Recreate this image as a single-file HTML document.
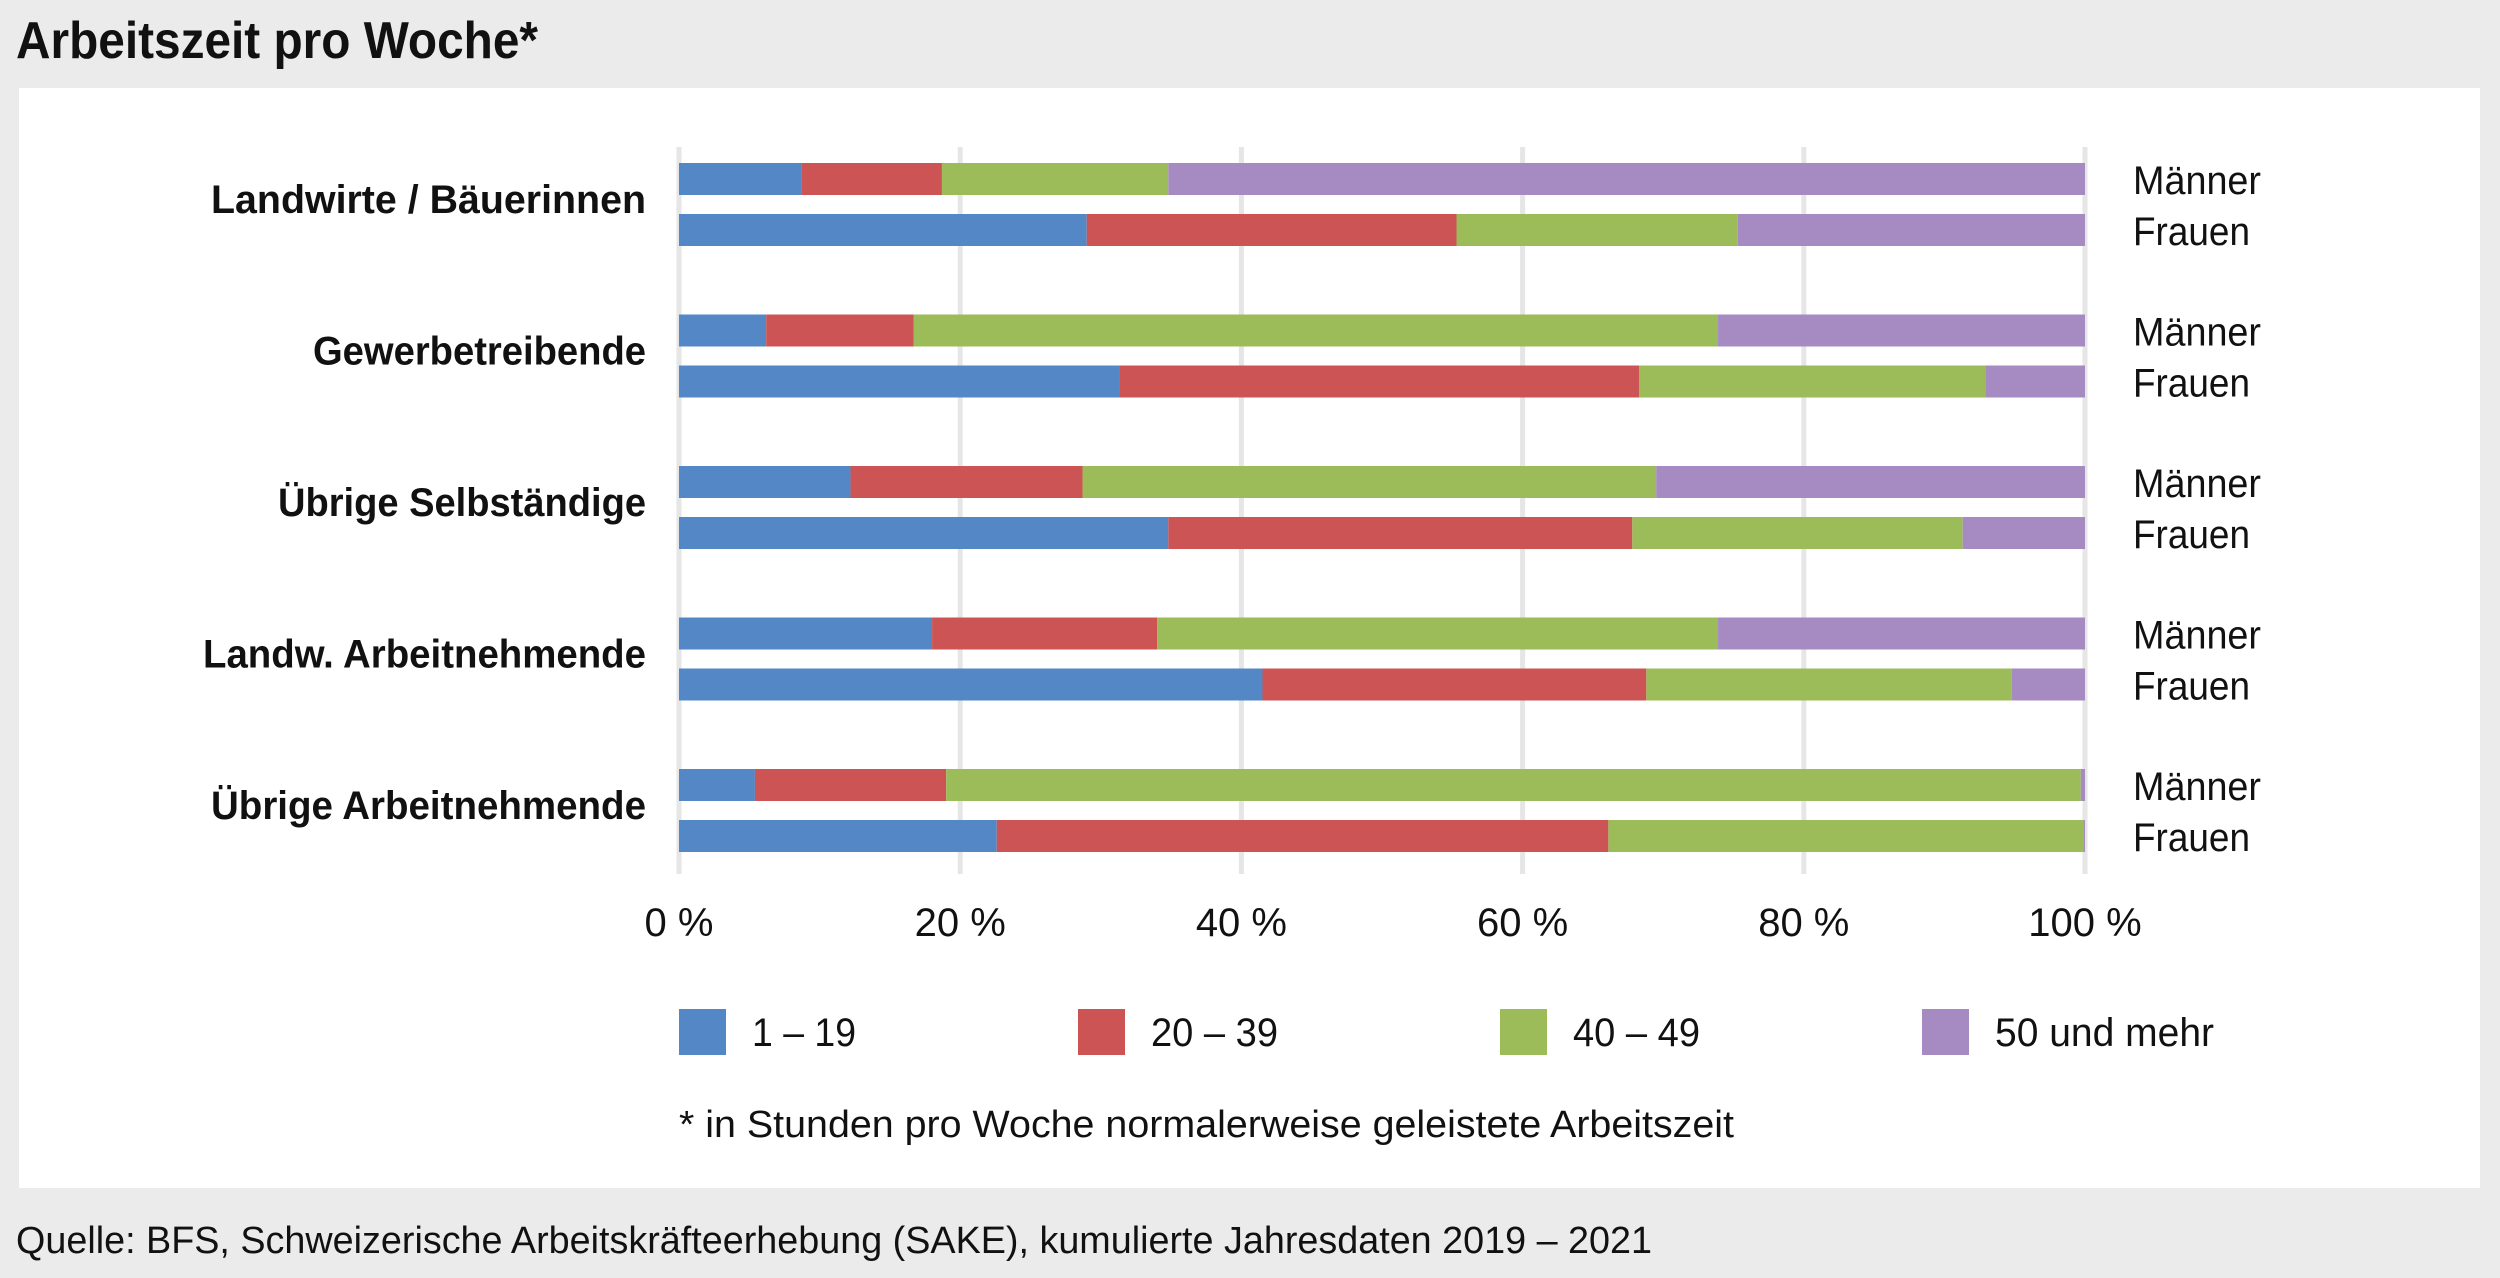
<!DOCTYPE html>
<html><head><meta charset="utf-8"><style>
html,body{margin:0;padding:0;background:#ebebeb;}
svg{display:block;font-family:"Liberation Sans",sans-serif;}
</style></head><body>
<svg width="2500" height="1278" viewBox="0 0 2500 1278">
<rect x="0" y="0" width="2500" height="1278" fill="#ebebeb"/>
<text x="16" y="58" font-size="52" font-weight="bold" textLength="522" lengthAdjust="spacingAndGlyphs" fill="#111">Arbeitszeit pro Woche*</text>
<rect x="19" y="88" width="2461" height="1100" fill="#fff"/>
<g id="grid"></g>
<g id="bars"></g>
<g id="labels"></g>
<g id="legend"></g>
<text x="679" y="1137" font-size="38" textLength="1055" lengthAdjust="spacingAndGlyphs" fill="#111">* in Stunden pro Woche normalerweise geleistete Arbeitszeit</text>
<text x="16" y="1253" font-size="38" textLength="1636" lengthAdjust="spacingAndGlyphs" fill="#111">Quelle: BFS, Schweizerische Arbeitskräfteerhebung (SAKE), kumulierte Jahresdaten 2019 – 2021</text>
</svg>
<script>
const categories = ["Landwirte / Bäuerinnen","Gewerbetreibende","Übrige Selbständige","Landw. Arbeitnehmende","Übrige Arbeitnehmende"];
const catWidths = [435,333,368,443,435];
const sexes = ["Männer","Frauen"];
const seriesNames = ["1 – 19","20 – 39","40 – 49","50 und mehr"];
const colors = ["#5387c6","#cc5454","#9cbb59","#a68bc3"];
// values per series: [cat][sex]
const s1 = [[8.7,29.0],[6.2,31.3],[12.2,34.8],[18.0,41.5],[5.4,22.6]];
const s2 = [[10.0,26.3],[10.5,37.0],[16.5,33.0],[16.0,27.3],[13.6,43.5]];
const s3 = [[16.1,20.0],[57.2,24.6],[40.8,23.5],[39.9,26.0],[80.7,33.8]];
const s4 = [[65.2,24.7],[26.1,7.1],[30.5,8.7],[26.1,5.2],[0.3,0.1]];
const ticks = [0,20,40,60,80,100];
const tickLabels = ["0 %","20 %","40 %","60 %","80 %","100 %"];
const series = [s1,s2,s3,s4];
const NS="http://www.w3.org/2000/svg";
const X0=679, X1=2085;
const xs = v => X0 + (X1-X0)*v/100;
const rowY = (c,s) => 163 + 151.5*c + 51*s;
const BH = 32;
function mk(tag, attrs, parent){const e=document.createElementNS(NS,tag);for(const k in attrs)e.setAttribute(k,attrs[k]);parent.appendChild(e);return e;}
const grid=document.getElementById('grid'), bars=document.getElementById('bars'), labels=document.getElementById('labels'), legend=document.getElementById('legend');
ticks.forEach((t,i)=>{
  const l=mk('line',{x1:xs(t),x2:xs(t),y1:147,y2:874,stroke:'#e6e6e6','stroke-width':5},grid);
  
  
  const tx=mk('text',{x:xs(t),y:936,'font-size':40,'text-anchor':'middle',fill:'#111'},grid);
  tx.textContent=tickLabels[i];
  
  
});
categories.forEach((cat,c)=>{
  sexes.forEach((sx,s)=>{
    let acc=0;
    series.forEach((ser,k)=>{
      const v=ser[c][s];
      const r=mk('rect',{x:xs(acc),y:rowY(c,s),width:xs(acc+v)-xs(acc),height:BH,fill:colors[k]},bars);
      
      
      acc+=v;
    });
    const t=mk('text',{x:2133,y:rowY(c,s)+31,'font-size':40,textLength:s===0?128:117,lengthAdjust:'spacingAndGlyphs',fill:'#111'},labels);
    t.textContent=sx;
    
    
  });
  const cl=mk('text',{x:646,y:rowY(c,0)+50,'font-size':40,'font-weight':'bold','text-anchor':'end',textLength:catWidths[c],lengthAdjust:'spacingAndGlyphs',fill:'#111'},labels);
  cl.textContent=cat;
  
  
});
const legX=[679,1078,1500,1922];
const legW=[104,127,127,219];
seriesNames.forEach((n,k)=>{
  const sq=mk('rect',{x:legX[k],y:1009,width:47,height:46,fill:colors[k]},legend);
  
  
  const t=mk('text',{x:legX[k]+73,y:1046,'font-size':40,textLength:legW[k],lengthAdjust:'spacingAndGlyphs',fill:'#111'},legend);
  t.textContent=n;
  
  
});
</script>
</body></html>
